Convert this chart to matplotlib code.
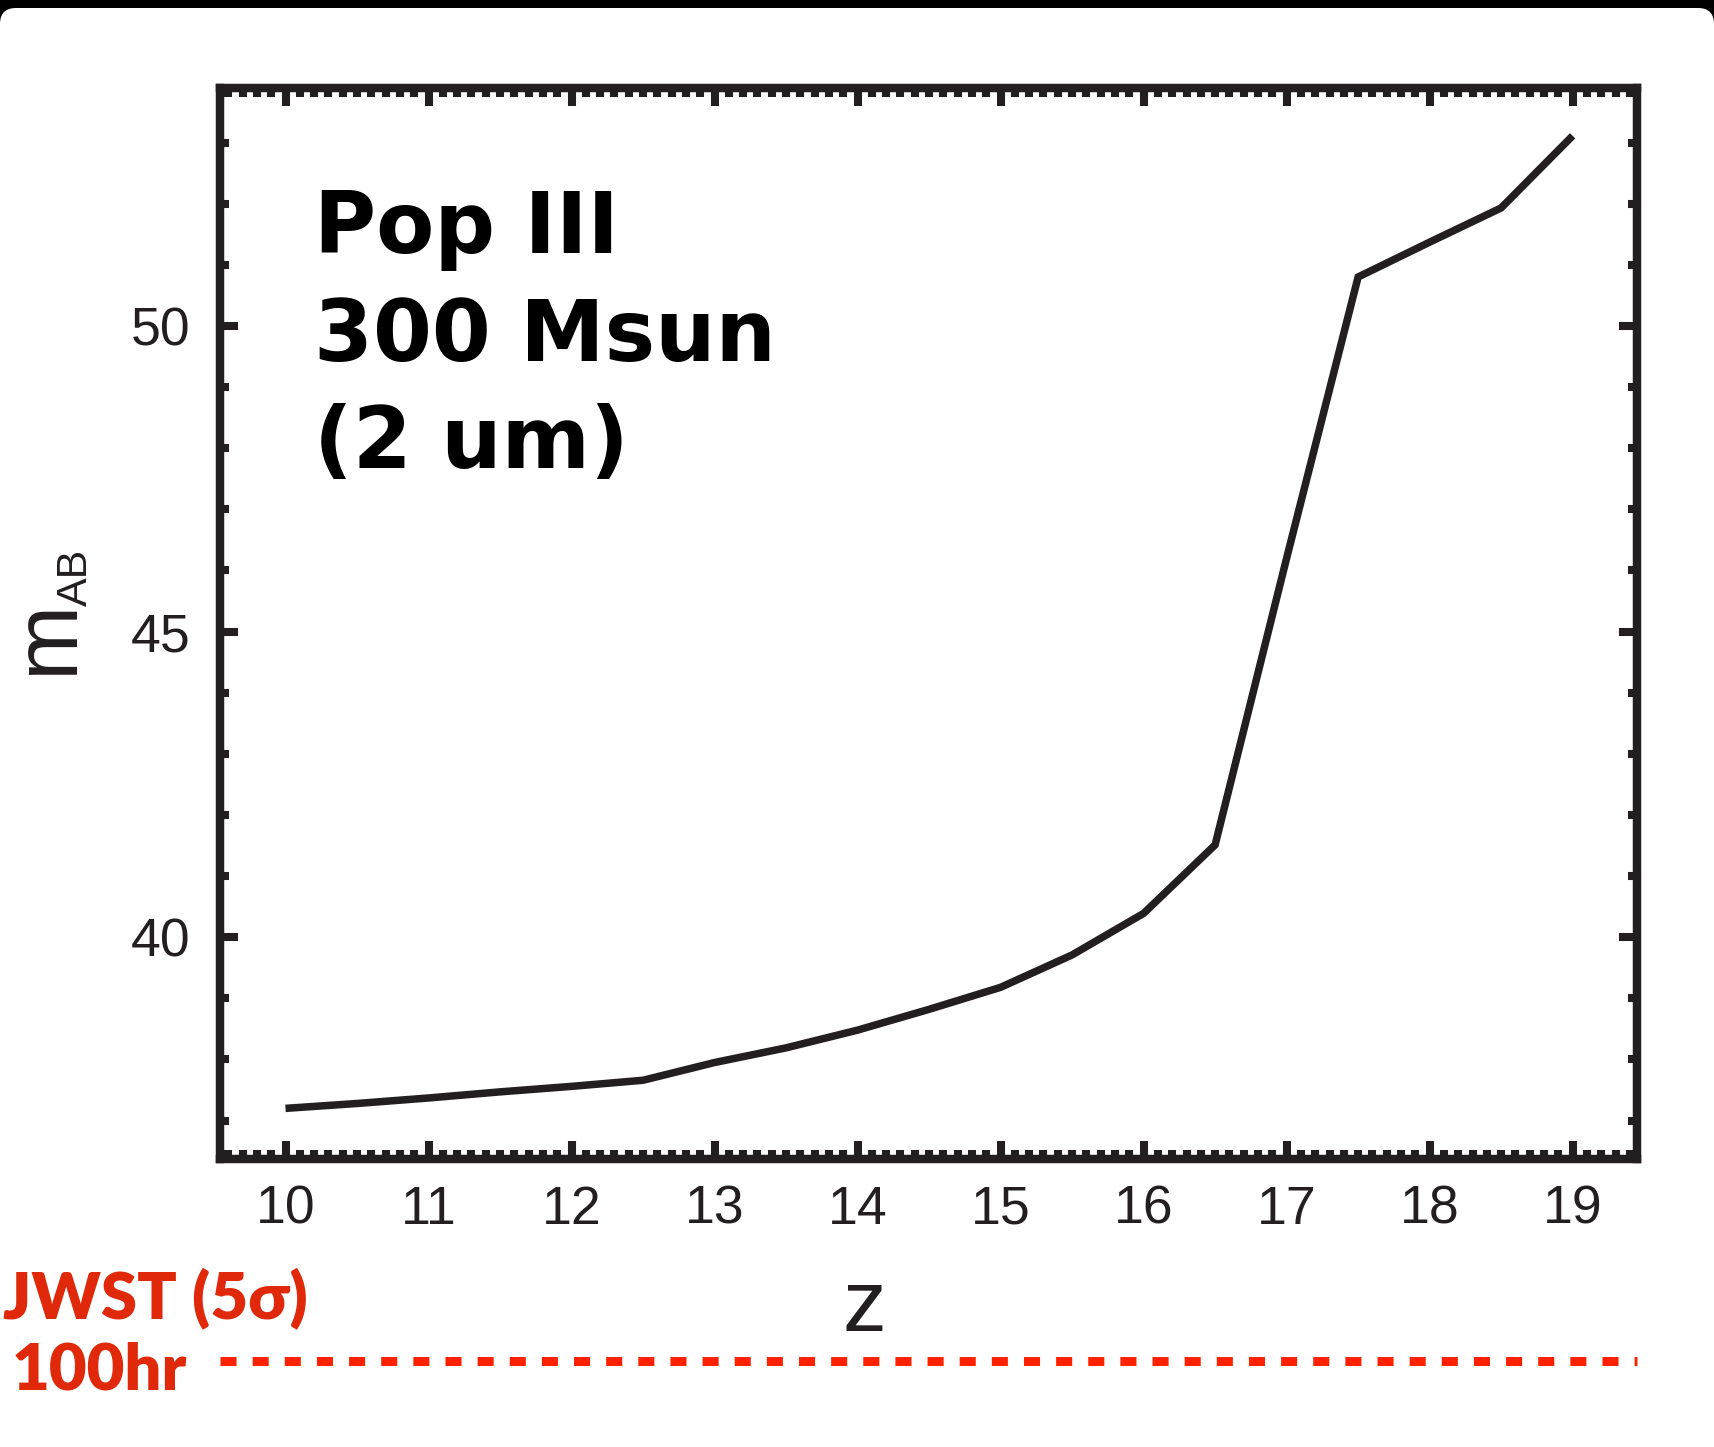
import matplotlib.pyplot as plt
from matplotlib.patches import FancyBboxPatch, Rectangle
from matplotlib.ticker import MultipleLocator
from matplotlib.transforms import IdentityTransform

# Pop III 300 Msun apparent magnitude at 2 um versus redshift
redshift = [10.0, 10.5, 11.0, 11.5, 12.0, 12.5, 13.0, 13.5, 14.0, 14.5,
            15.0, 15.5, 16.0, 16.5, 17.0, 17.5, 18.0, 18.5, 19.0]
m_ab = [37.20, 37.28, 37.37, 37.47, 37.56, 37.66, 37.95, 38.19, 38.48, 38.82,
        39.18, 39.71, 40.39, 41.51, 46.20, 50.80, 51.37, 51.93, 53.11]

# JWST 5 sigma, 100 hr depth marker (drawn below the frame)
jwst_limit = 33.07

x_ticks = [10, 11, 12, 13, 14, 15, 16, 17, 18, 19]
y_ticks = [40, 45, 50]

INK = '#231f20'
RED_TEXT = '#e0290b'
RED_LINE = '#ff2200'
DPI = 100
W, H = 1714, 1447

fig = plt.figure(figsize=(W / DPI, H / DPI), dpi=DPI, facecolor='black')

# white slide area with rounded top corners under a thin black band
slide = FancyBboxPatch((0, 0), W, H - 8, boxstyle='round,pad=0,rounding_size=16',
                       transform=IdentityTransform(), facecolor='white',
                       edgecolor='none', zorder=-10)
fig.patches.append(slide)
fig.patches.append(Rectangle((0, -20), W, 60, transform=IdentityTransform(),
                             facecolor='white', edgecolor='none', zorder=-9))

ax = fig.add_axes([220 / W, 1 - 1158.5 / H, 1417 / W, 1071 / H])
ax.plot(redshift, m_ab, color=INK, lw=5.4, solid_capstyle='butt',
        solid_joinstyle='miter')

ax.set_xlim(9.542, 19.45)
ax.set_ylim(36.38, 53.9)
ax.set_xticks(x_ticks)
ax.set_yticks(y_ticks)
ax.xaxis.set_minor_locator(MultipleLocator(0.1))
ax.yaxis.set_minor_locator(MultipleLocator(1))

for side in ax.spines.values():
    side.set_linewidth(6.1)
    side.set_color(INK)

ax.tick_params(which='both', direction='in', top=True, right=True,
               color=INK, width=5.8)
ax.tick_params(which='major', length=13)
ax.tick_params(which='minor', length=6.5)
ax.tick_params(axis='x', which='major', pad=19)
ax.tick_params(axis='y', which='major', pad=21)
for lab in ax.get_xticklabels() + ax.get_yticklabels():
    lab.set_fontfamily('Liberation Sans')
    lab.set_fontsize(38.5)
    lab.set_color(INK)

# annotation inside the frame
ax.text(0.0664, 0.6447, 'Pop III\n300 Msun\n(2 um)', transform=ax.transAxes,
        family='DejaVu Sans', fontweight='bold', fontsize=61, color='black',
        ha='left', va='baseline', linespacing=1.375)

# axis labels
px = fig.transFigure.inverted()
def fig_xy(x, y):
    return px.transform((x, H - y))

fig.text(*fig_xy(72, 675), 'm', family='Liberation Sans', fontsize=65,
         color=INK, rotation=90, rotation_mode='anchor', ha='left', va='baseline')
fig.text(*fig_xy(87, 606), 'AB', family='Liberation Sans', fontsize=31,
         color=INK, rotation=90, rotation_mode='anchor', ha='left', va='baseline')
fig.text(*fig_xy(864, 1331), 'z', family='Liberation Sans', fontsize=63,
         color=INK, ha='center', va='baseline')

# JWST depth line and label
ax.axhline(jwst_limit, color=RED_LINE, lw=6.5, dashes=(1.78, 1.78),
           dash_capstyle='butt', clip_on=False)
fig.text(*fig_xy(3, 1318), 'JWST (5σ)', family=['Lato', 'DejaVu Sans'],
         fontweight='heavy', fontsize=47, color=RED_TEXT, ha='left', va='baseline')
fig.text(*fig_xy(12, 1390), '100hr', family=['Lato', 'DejaVu Sans'],
         fontweight='heavy', fontsize=47, color=RED_TEXT, ha='left', va='baseline')

fig.savefig('out.png', dpi=DPI, facecolor=fig.get_facecolor())
